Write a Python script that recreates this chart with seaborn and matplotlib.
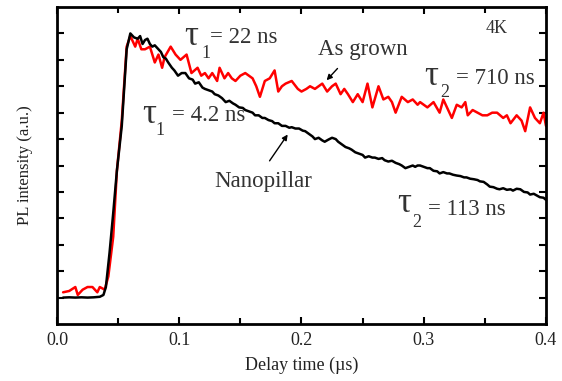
import matplotlib
matplotlib.use('Agg')
import matplotlib.pyplot as plt
import numpy as np
import pandas as pd
import seaborn as sns
from matplotlib.ticker import MultipleLocator, NullFormatter, FormatStrFormatter

# Nanopillar trace (black), delay time in us and normalised PL intensity
nano_t = [0.005, 0.010, 0.015, 0.020, 0.025, 0.030, 0.035, 0.038, 0.040, 0.043,
          0.046, 0.049, 0.053, 0.057, 0.060, 0.063, 0.066, 0.068, 0.070, 0.072,
          0.074, 0.076, 0.078, 0.080, 0.083, 0.085, 0.087, 0.089, 0.091, 0.094,
          0.096, 0.099, 0.102, 0.105, 0.108, 0.111, 0.113, 0.116, 0.119, 0.121,
          0.124, 0.127, 0.129, 0.132, 0.135, 0.138, 0.141, 0.144, 0.146, 0.149,
          0.152, 0.154, 0.157, 0.160, 0.162, 0.165, 0.168, 0.170, 0.173, 0.176,
          0.178, 0.181, 0.184, 0.187, 0.190, 0.192, 0.195, 0.198, 0.201, 0.203,
          0.206, 0.209, 0.211, 0.214, 0.217, 0.219, 0.222, 0.225, 0.228, 0.230,
          0.233, 0.236, 0.239, 0.241, 0.244, 0.247, 0.250, 0.252, 0.255, 0.258,
          0.260, 0.263, 0.266, 0.268, 0.271, 0.274, 0.277, 0.280, 0.282, 0.285,
          0.288, 0.291, 0.293, 0.295, 0.297, 0.300, 0.303, 0.305, 0.308, 0.311,
          0.313, 0.316, 0.319, 0.321, 0.324, 0.327, 0.330, 0.333, 0.335, 0.338,
          0.341, 0.344, 0.346, 0.349, 0.352, 0.354, 0.357, 0.360, 0.362, 0.365,
          0.368, 0.371, 0.373, 0.376, 0.379, 0.382, 0.385, 0.387, 0.390, 0.393,
          0.395, 0.398, 0.400]
nano_pl = [0.000, 0.001, 0.000, 0.001, 0.000, 0.001, 0.003, 0.010, 0.040, 0.170,
           0.320, 0.480, 0.650, 0.940, 1.000, 0.985, 0.980, 0.990, 0.960, 0.975,
           0.980, 0.960, 0.950, 0.955, 0.940, 0.930, 0.910, 0.905, 0.890, 0.870,
           0.860, 0.840, 0.850, 0.850, 0.830, 0.825, 0.810, 0.815, 0.795, 0.790,
           0.785, 0.780, 0.770, 0.765, 0.755, 0.740, 0.745, 0.735, 0.730, 0.720,
           0.718, 0.710, 0.705, 0.700, 0.690, 0.690, 0.680, 0.680, 0.672, 0.668,
           0.660, 0.660, 0.650, 0.650, 0.643, 0.645, 0.640, 0.640, 0.632, 0.630,
           0.620, 0.610, 0.600, 0.605, 0.595, 0.590, 0.598, 0.605, 0.600, 0.590,
           0.580, 0.570, 0.565, 0.560, 0.550, 0.545, 0.540, 0.530, 0.535, 0.530,
           0.530, 0.525, 0.528, 0.520, 0.515, 0.518, 0.510, 0.505, 0.500, 0.490,
           0.495, 0.500, 0.495, 0.500, 0.500, 0.495, 0.490, 0.490, 0.480, 0.478,
           0.470, 0.475, 0.470, 0.470, 0.465, 0.462, 0.460, 0.455, 0.455, 0.450,
           0.448, 0.445, 0.440, 0.438, 0.428, 0.420, 0.418, 0.412, 0.410, 0.414,
           0.408, 0.410, 0.405, 0.412, 0.410, 0.400, 0.398, 0.390, 0.393, 0.385,
           0.380, 0.378, 0.370]

# As grown trace (red)
grown_t = [0.005, 0.010, 0.015, 0.017, 0.021, 0.025, 0.029, 0.033, 0.035, 0.039,
           0.042, 0.046, 0.049, 0.053, 0.057, 0.060, 0.064, 0.066, 0.069, 0.072,
           0.076, 0.080, 0.083, 0.086, 0.088, 0.093, 0.097, 0.101, 0.106, 0.110,
           0.115, 0.118, 0.121, 0.124, 0.127, 0.131, 0.133, 0.137, 0.140, 0.143,
           0.146, 0.150, 0.154, 0.160, 0.163, 0.166, 0.170, 0.174, 0.178, 0.181,
           0.184, 0.187, 0.192, 0.197, 0.200, 0.204, 0.207, 0.211, 0.214, 0.217,
           0.221, 0.225, 0.228, 0.232, 0.235, 0.238, 0.242, 0.246, 0.250, 0.254,
           0.258, 0.263, 0.267, 0.271, 0.274, 0.277, 0.282, 0.287, 0.291, 0.295,
           0.297, 0.300, 0.303, 0.308, 0.313, 0.316, 0.320, 0.323, 0.327, 0.331,
           0.334, 0.336, 0.340, 0.344, 0.348, 0.352, 0.356, 0.360, 0.365, 0.368,
           0.371, 0.376, 0.380, 0.383, 0.387, 0.391, 0.395, 0.398, 0.400]
grown_pl = [0.020, 0.025, 0.040, 0.010, 0.030, 0.040, 0.040, 0.020, 0.040, 0.030,
            0.080, 0.230, 0.480, 0.670, 0.950, 0.990, 0.950, 0.980, 0.940, 0.940,
            0.950, 0.890, 0.920, 0.870, 0.910, 0.950, 0.920, 0.900, 0.920, 0.850,
            0.870, 0.840, 0.850, 0.830, 0.850, 0.820, 0.870, 0.830, 0.850, 0.830,
            0.820, 0.840, 0.850, 0.830, 0.800, 0.760, 0.820, 0.830, 0.860, 0.780,
            0.800, 0.810, 0.820, 0.790, 0.780, 0.790, 0.800, 0.790, 0.800, 0.810,
            0.780, 0.800, 0.810, 0.770, 0.790, 0.770, 0.740, 0.770, 0.740, 0.810,
            0.720, 0.800, 0.750, 0.760, 0.740, 0.700, 0.760, 0.740, 0.750, 0.730,
            0.740, 0.730, 0.720, 0.740, 0.700, 0.750, 0.710, 0.680, 0.730, 0.720,
            0.740, 0.690, 0.710, 0.700, 0.690, 0.690, 0.700, 0.700, 0.680, 0.690,
            0.660, 0.690, 0.670, 0.630, 0.720, 0.680, 0.660, 0.700, 0.650]

nano = pd.DataFrame({'t': nano_t, 'pl': nano_pl})
grown = pd.DataFrame({'t': grown_t, 'pl': grown_pl})

sns.set_style('ticks')
plt.rcParams['font.family'] = ['Liberation Serif', 'DejaVu Serif']

fig = plt.figure(figsize=(5.62, 3.81), dpi=100)
ax = fig.add_axes([0.1014, 0.1496, 0.8701, 0.832])

sns.lineplot(data=grown, x='t', y='pl', color='#ff0000', linewidth=1.8,
             estimator=None, sort=False, ax=ax)
sns.lineplot(data=nano, x='t', y='pl', color='black', linewidth=1.8,
             estimator=None, sort=False, ax=ax)

ax.set_xlim(0, 0.4)
ax.set_ylim(-0.1, 1.1)
ax.xaxis.set_major_locator(MultipleLocator(0.1))
ax.xaxis.set_minor_locator(MultipleLocator(0.05))
ax.xaxis.set_major_formatter(FormatStrFormatter('%.1f'))
ax.set_yticks(np.arange(0, 1.01, 0.1))
ax.yaxis.set_major_formatter(NullFormatter())
ax.tick_params(which='both', direction='in', top=True, right=True, width=1.5,
               labelsize=13, colors='black', pad=6)
ax.tick_params(which='major', length=5)
ax.tick_params(which='minor', length=4)
ax.tick_params(axis='x', which='major', labelcolor='#222222')
for s in ax.spines.values():
    s.set_linewidth(2)
    s.set_color('black')

ax.set_xlabel('Delay time (\u00b5s)', fontsize=13, color='#222222', labelpad=5)
ax.set_ylabel('PL intensity (a.u.)', fontsize=12, color='#222222', labelpad=11)

txt = '#333333'
# tau_1 = 22 ns
ax.text(0.110, 0.99, '\u03c4', fontsize=25, ha='center', va='center', color=txt)
ax.text(0.1215, 0.925, '1', fontsize=13, ha='center', va='center', color=txt)
ax.text(0.1255, 0.985, '= 22 ns', fontsize=16.5, ha='left', va='center', color=txt)
# tau_1 = 4.2 ns
ax.text(0.0757, 0.694, '\u03c4', fontsize=25, ha='center', va='center', color=txt)
ax.text(0.0843, 0.634, '1', fontsize=13, ha='center', va='center', color=txt)
ax.text(0.094, 0.69, '= 4.2 ns', fontsize=16.5, ha='left', va='center', color=txt)
# tau_2 = 710 ns
ax.text(0.3063, 0.838, '\u03c4', fontsize=25, ha='center', va='center', color=txt)
ax.text(0.317, 0.777, '2', fontsize=13, ha='center', va='center', color=txt)
ax.text(0.3264, 0.83, '= 710 ns', fontsize=16.5, ha='left', va='center', color=txt)
# tau_2 = 113 ns
ax.text(0.284, 0.357, '\u03c4', fontsize=25, ha='center', va='center', color=txt)
ax.text(0.294, 0.283, '2', fontsize=13, ha='center', va='center', color=txt)
ax.text(0.3035, 0.332, '= 113 ns', fontsize=16.5, ha='left', va='center', color=txt)

ax.text(0.2503, 0.94, 'As grown', fontsize=16.5, ha='center', va='center', color=txt)
ax.text(0.1685, 0.44, 'Nanopillar', fontsize=16.5, ha='center', va='center', color=txt)
ax.text(0.360, 1.02, '4K', fontsize=13, ha='center', va='center', color=txt)

ax.annotate('', xy=(0.219, 0.815), xytext=(0.231, 0.875),
            arrowprops=dict(arrowstyle='-|>', color='black', lw=1, mutation_scale=8))
ax.annotate('', xy=(0.190, 0.626), xytext=(0.1726, 0.509),
            arrowprops=dict(arrowstyle='-|>', color='black', lw=1, mutation_scale=8))

fig.savefig('out.png', dpi=100)
